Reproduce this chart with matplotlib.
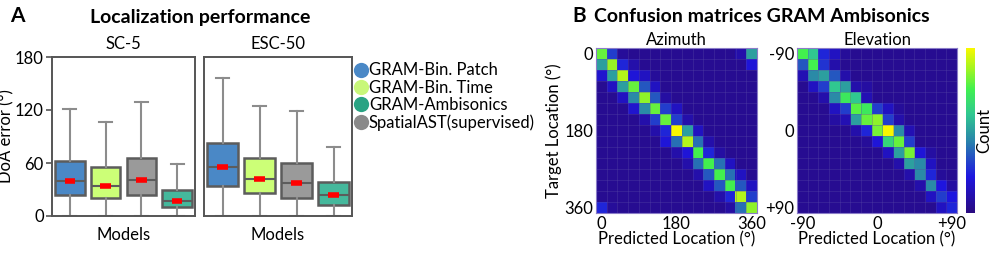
import matplotlib
matplotlib.use('Agg')
import matplotlib.pyplot as plt
from matplotlib.colors import LinearSegmentedColormap
from matplotlib.lines import Line2D
import numpy as np

plt.rcParams['font.family'] = ['Lato', 'DejaVu Sans']

# ---- data: box plot statistics (DoA error, degrees) ----
models = ['GRAM-Bin. Patch', 'GRAM-Bin. Time', 'SpatialAST(supervised)', 'GRAM-Ambisonics']
legend_order = ['GRAM-Bin. Patch', 'GRAM-Bin. Time', 'GRAM-Ambisonics', 'SpatialAST(supervised)']
colors = {'GRAM-Bin. Patch': '#4a88c6', 'GRAM-Bin. Time': '#ccff77',
          'SpatialAST(supervised)': '#9a9a9a', 'GRAM-Ambisonics': '#45b89c'}
legend_colors = {'GRAM-Bin. Patch': '#4a88c6', 'GRAM-Bin. Time': '#c8f77a',
                 'GRAM-Ambisonics': '#2aa383', 'SpatialAST(supervised)': '#8a8a8a'}

sc5_med = [39.5, 34, 40.5, 17.5]
sc5_q1 = [23.5, 20.5, 23.5, 10]
sc5_q3 = [62.5, 55, 66, 29.5]
sc5_hi = [121.5, 106, 129, 58.5]
sc5_lo = [0, 0, 0, 0]

esc_med = [55.3, 41.7, 37.5, 24]
esc_q1 = [33.7, 25.8, 20.8, 13]
esc_q3 = [83, 65.5, 60, 39]
esc_hi = [156, 124.5, 119, 78]
esc_lo = [0, 0, 0, 0]

# ---- data: confusion matrices (normalised count, 15 x 15) ----
azimuth = np.full((15, 15), 0.04)
az_cells = {
    0: {0: .8, 1: .3, 2: .06, 13: .1, 14: .5},
    1: {0: .5, 1: .86, 2: .25, 3: .1, 14: .2},
    2: {0: .18, 1: .5, 2: .9, 3: .2, 4: .15, 5: .06},
    3: {1: .15, 2: .5, 3: .8, 4: .35, 5: .15},
    4: {2: .15, 3: .45, 4: .85, 5: .35, 6: .08},
    5: {3: .18, 4: .45, 5: .8, 6: .3, 7: .15},
    6: {4: .1, 5: .3, 6: .8, 7: .3, 8: .1},
    7: {5: .1, 6: .25, 7: 1.0, 8: .5, 9: .15},
    8: {6: .2, 7: .4, 8: .9, 9: .4, 10: .1},
    9: {7: .1, 8: .2, 9: .75, 10: .25, 11: .08},
    10: {8: .1, 9: .4, 10: .75, 11: .4, 12: .15},
    11: {9: .1, 10: .35, 11: .75, 12: .4, 13: .15},
    12: {10: .15, 11: .35, 12: .75, 13: .35, 14: .15},
    13: {11: .1, 12: .25, 13: .9, 14: .3},
    14: {0: .25, 1: .06, 12: .08, 13: .4, 14: .85},
}
for r, row in az_cells.items():
    for c, v in row.items():
        azimuth[r, c] = v

elevation = np.full((15, 15), 0.04)
el_cells = {
    0: {0: .75, 1: .6, 2: .25, 3: .15, 4: .06},
    1: {0: .35, 1: .75, 2: .28, 3: .1},
    2: {0: .12, 1: .45, 2: .5, 3: .35, 4: .1},
    3: {1: .15, 2: .3, 3: .6, 4: .5, 5: .1, 6: .08},
    4: {2: .1, 3: .45, 4: .72, 5: .6, 6: .12},
    5: {3: .15, 4: .3, 5: .78, 6: .72, 7: .3, 8: .15, 9: .06},
    6: {3: .08, 4: .12, 5: .5, 6: .8, 7: .85, 8: .3, 9: .1},
    7: {5: .1, 6: .25, 7: .82, 8: 1.0, 9: .45, 10: .12},
    8: {6: .06, 7: .2, 8: .65, 9: .8, 10: .3},
    9: {8: .15, 9: .5, 10: .82, 11: .2, 12: .08},
    10: {9: .1, 10: .5, 11: .45, 12: .15},
    11: {10: .1, 11: .45, 12: .25, 13: .06},
    12: {11: .1, 12: .45, 13: .22, 14: .08},
    13: {12: .15, 13: .3, 14: .22},
    14: {13: .15, 14: .25},
}
for r, row in el_cells.items():
    for c, v in row.items():
        elevation[r, c] = v

az_ticks = ['0', '180', '360']
el_ticks = ['-90', '0', '+90']

cmap = LinearSegmentedColormap.from_list('cnt', [
    (0.0, '#2a0b80'), (0.22, '#1e16e0'), (0.45, '#2a8aa8'),
    (0.6, '#30c890'), (0.75, '#40f050'), (0.88, '#a5f520'), (1.0, '#f8f800')])

W, H = 997, 254
fig = plt.figure(figsize=(W / 100, H / 100), dpi=100)


def rect(x0, y0, x1, y1):
    return [x0 / W, 1 - y1 / H, (x1 - x0) / W, (y1 - y0) / H]


def boxes(ax, med, q1, q3, lo, hi, title):
    stats = [dict(med=m, q1=a, q3=b, whislo=l, whishi=h, label='')
             for m, a, b, l, h in zip(med, q1, q3, lo, hi)]
    pos = np.arange(1, 5)
    art = ax.bxp(stats, positions=pos, widths=0.82, patch_artist=True, showfliers=False,
                 capwidths=0.36,
                 boxprops=dict(edgecolor='#5c5c5c', linewidth=1.8),
                 whiskerprops=dict(color='#8c8c8c', linewidth=1.5),
                 capprops=dict(color='#8c8c8c', linewidth=1.5),
                 medianprops=dict(color='#5c5c5c', linewidth=1.5))
    for patch, name in zip(art['boxes'], models):
        patch.set_facecolor(colors[name])
    ax.hlines(med, pos - 0.15, pos + 0.15, color='#ff0000', linewidth=4, zorder=5)
    ax.set_xlim(0.5, 4.5)
    ax.set_ylim(0, 180)
    ax.set_xticks([])
    ax.set_xlabel('Models', fontsize=12, labelpad=8)
    ax.set_title(title, fontsize=12, pad=6)
    for s in ax.spines.values():
        s.set_color('#555555')
        s.set_linewidth(1.4)


ax1 = fig.add_axes(rect(52, 57, 195, 216))
boxes(ax1, sc5_med, sc5_q1, sc5_q3, sc5_lo, sc5_hi, 'SC-5')
ax1.set_yticks([0, 60, 120, 180])
ax1.tick_params(axis='y', labelsize=12, length=4, width=1.2, color='#555555', pad=2)
ax1.set_ylabel('DoA error (°)', fontsize=12)
ax1.yaxis.set_label_coords(-0.26, 0.5)

ax2 = fig.add_axes(rect(204, 57, 352, 216))
boxes(ax2, esc_med, esc_q1, esc_q3, esc_lo, esc_hi, 'ESC-50')
ax2.set_yticks([])

handles = [Line2D([], [], marker='o', linestyle='', markersize=11,
                  markerfacecolor=legend_colors[n], markeredgecolor='none') for n in legend_order]
fig.legend(handles, legend_order, loc='upper left', bbox_to_anchor=(343 / W, 1 - 54 / H),
           frameon=False, fontsize=12, handletextpad=-0.15, labelspacing=0.08,
           borderpad=0, handlelength=1.2)

fig.text(10 / W, 1 - 16 / H, 'A', fontsize=15, fontweight='bold', va='center')
fig.text(200 / W, 1 - 17 / H, 'Localization performance', fontsize=14, fontweight='bold',
         ha='center', va='center')
fig.text(572 / W, 1 - 16 / H, 'B', fontsize=15, fontweight='bold', va='center')
fig.text(762 / W, 1 - 17 / H, 'Confusion matrices GRAM Ambisonics', fontsize=14,
         fontweight='bold', ha='center', va='center')


def heat(ax, data, ticks, title):
    im = ax.imshow(data, cmap=cmap, vmin=0, vmax=1, aspect='auto', interpolation='nearest')
    ax.set_xticks([0, 7, 14], ticks)
    ax.set_yticks([0, 7, 14], ticks)
    ax.set_xticks(np.arange(-0.5, 15, 1), minor=True)
    ax.set_yticks(np.arange(-0.5, 15, 1), minor=True)
    ax.grid(which='minor', color='#5a4aa8', linewidth=0.4, alpha=0.6)
    ax.tick_params(which='both', length=0, labelsize=12, pad=2)
    ax.set_title(title, fontsize=12, pad=2)
    ax.set_xlabel('Predicted Location (°)', fontsize=12, labelpad=0)
    for s in ax.spines.values():
        s.set_color('#8a7cc8')
        s.set_linewidth(0.8)
    return im


ax3 = fig.add_axes(rect(596, 48, 757, 213))
heat(ax3, azimuth, az_ticks, 'Azimuth')
ax3.set_ylabel('Target Location (°)', fontsize=12, labelpad=2)

ax4 = fig.add_axes(rect(797, 48, 957, 213))
im = heat(ax4, elevation, el_ticks, 'Elevation')

cax = fig.add_axes(rect(966, 48, 975, 213))
cb = fig.colorbar(im, cax=cax)
cb.set_ticks([])
cb.outline.set_visible(False)
cb.set_label('Count', fontsize=12, labelpad=1)

fig.savefig('out.png', dpi=100)
